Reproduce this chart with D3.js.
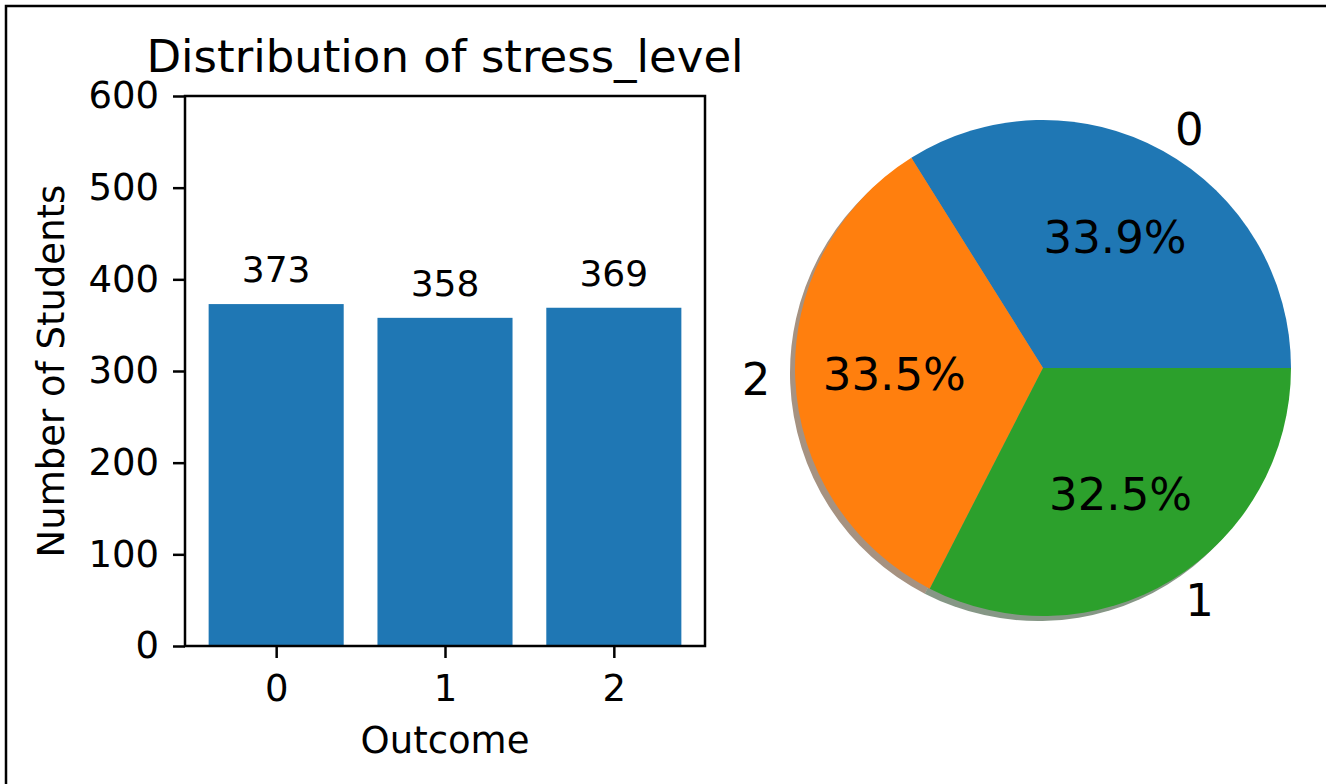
<!DOCTYPE html>
<html>
<head>
<meta charset="utf-8">
<script src="https://cdn.jsdelivr.net/npm/d3@7"></script>
<style>
  body { margin: 0; background: #fff; }
  svg text { font-family: "DejaVu Sans", sans-serif; fill: #000; }
</style>
</head>
<body>
<svg id="chart" width="1326" height="784"></svg>
<script>
// data
var outcomes = ["0", "1", "2"];
var students = [373, 358, 369];
var yTicks = [0, 100, 200, 300, 400, 500, 600];
// pie order follows value_counts (largest first)
var pieLabels = ["0", "2", "1"];
var pieValues = [373, 369, 358];
var pieColors = ["#1f77b4", "#ff7f0e", "#2ca02c"];

var svg = d3.select("#chart");

// frame round the figure (only left and top edges show)
svg.append("path")
   .attr("d", "M6,784 V6 H1326")
   .attr("fill", "none")
   .attr("stroke", "#000")
   .attr("stroke-width", 2.5);

/* ******************** bar chart ************************* */
var barBox = {left: 185, right: 705, top: 96, bottom: 646};
var tickFont = "37px";

var xBar = d3.scaleLinear().domain([-0.54, 2.54]).range([barBox.left, barBox.right]);
var yBar = d3.scaleLinear().domain([0, 600]).range([barBox.bottom, barBox.top]);
var barW = xBar(0.8) - xBar(0);

var gBar = svg.append("g");

gBar.selectAll("rect.bar")
    .data(students)
    .enter()
    .append("rect")
      .attr("class", "bar")
      .attr("x", function(d, i) { return xBar(i) - barW / 2; })
      .attr("y", function(d) { return yBar(d); })
      .attr("width", barW)
      .attr("height", function(d) { return yBar(0) - yBar(d); })
      .attr("fill", "#1f77b4");

// count above each bar
gBar.selectAll("text.count")
    .data(students)
    .enter()
    .append("text")
      .attr("class", "count")
      .attr("x", function(d, i) { return xBar(i); })
      .attr("y", function(d) { return yBar(d) - 22; })
      .attr("text-anchor", "middle")
      .style("font-size", "36px")
      .text(function(d) { return d; });

// axes box
gBar.append("rect")
    .attr("x", barBox.left).attr("y", barBox.top)
    .attr("width", barBox.right - barBox.left)
    .attr("height", barBox.bottom - barBox.top)
    .attr("fill", "none")
    .attr("stroke", "#000")
    .attr("stroke-width", 2.5);

var yAxis = d3.axisLeft(yBar).tickValues(yTicks).tickSize(12).tickPadding(14);
var xAxis = d3.axisBottom(xBar).tickValues([0, 1, 2])
              .tickFormat(function(d) { return outcomes[d]; })
              .tickSize(12).tickPadding(17);

gBar.append("g")
    .attr("transform", "translate(" + barBox.left + ",0)")
    .call(yAxis)
    .call(function(g) { g.select(".domain").remove(); });

gBar.append("g")
    .attr("transform", "translate(0," + barBox.bottom + ")")
    .call(xAxis)
    .call(function(g) { g.select(".domain").remove(); });

gBar.selectAll(".tick line").attr("stroke", "#000").attr("stroke-width", 2.5);
gBar.selectAll(".tick text").attr("font-family", null).style("font-size", tickFont).attr("fill", "#000");

// titles
gBar.append("text")
    .attr("x", (barBox.left + barBox.right) / 2)
    .attr("y", 72)
    .attr("text-anchor", "middle")
    .style("font-size", "45px")
    .text("Distribution of stress_level");

gBar.append("text")
    .attr("x", (barBox.left + barBox.right) / 2)
    .attr("y", 753)
    .attr("text-anchor", "middle")
    .style("font-size", tickFont)
    .text("Outcome");

gBar.append("text")
    .attr("transform", "translate(64," + (barBox.top + barBox.bottom) / 2 + ") rotate(-90)")
    .attr("text-anchor", "middle")
    .style("font-size", tickFont)
    .text("Number of Students");

/* ******************** pie chart ************************* */
var pieCx = 1043, pieCy = 368, pieR = 248;
var total = d3.sum(pieValues);

// matplotlib starts at 3 o'clock and runs counter-clockwise
var pie = d3.pie().sort(null)
    .startAngle(Math.PI / 2)
    .endAngle(Math.PI / 2 - 2 * Math.PI);
var arcs = pie(pieValues);
var arc = d3.arc().innerRadius(0).outerRadius(pieR);

var gPie = svg.append("g");

// shadow, offset down and to the left
gPie.append("g")
    .attr("transform", "translate(" + (pieCx - 5) + "," + (pieCy + 5) + ")")
    .selectAll("path")
    .data(arcs)
    .enter()
    .append("path")
      .attr("d", arc)
      .attr("fill", function(d, i) {
        var c = d3.rgb(pieColors[i]);
        return d3.rgb(c.r * 0.3, c.g * 0.3, c.b * 0.3);
      })
      .attr("opacity", 0.5);

var gSlices = gPie.append("g")
    .attr("transform", "translate(" + pieCx + "," + pieCy + ")");

gSlices.selectAll("path")
    .data(arcs)
    .enter()
    .append("path")
      .attr("d", arc)
      .attr("fill", function(d, i) { return pieColors[i]; });

function midAngle(d) { return (d.startAngle + d.endAngle) / 2; }

// percentage text at 0.6 r
gSlices.selectAll("text.pct")
    .data(arcs)
    .enter()
    .append("text")
      .attr("class", "pct")
      .attr("x", function(d) { return 0.6 * pieR * Math.sin(midAngle(d)); })
      .attr("y", function(d) { return -0.6 * pieR * Math.cos(midAngle(d)); })
      .attr("text-anchor", "middle")
      .attr("dominant-baseline", "central")
      .style("font-size", "45px")
      .text(function(d) { return (100 * d.value / total).toFixed(1) + "%"; });

// category labels at 1.1 r
gSlices.selectAll("text.lbl")
    .data(arcs)
    .enter()
    .append("text")
      .attr("class", "lbl")
      .attr("x", function(d) { return 1.1 * pieR * Math.sin(midAngle(d)); })
      .attr("y", function(d) { return -1.1 * pieR * Math.cos(midAngle(d)); })
      .attr("text-anchor", function(d) { return Math.sin(midAngle(d)) < 0 ? "end" : "start"; })
      .attr("dominant-baseline", "central")
      .style("font-size", "45px")
      .text(function(d, i) { return pieLabels[i]; });
</script>
</body>
</html>
